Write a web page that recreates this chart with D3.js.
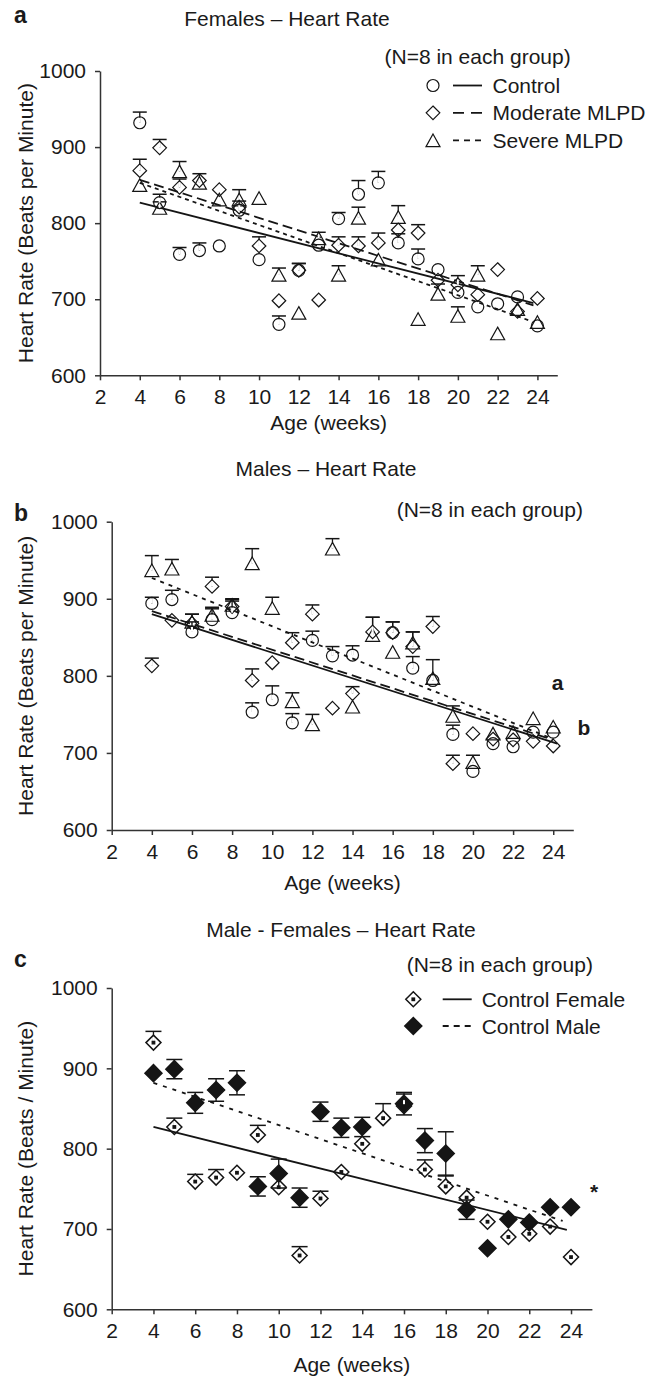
<!DOCTYPE html>
<html>
<head>
<meta charset="utf-8">
<script src="https://cdn.jsdelivr.net/npm/d3@7"></script>
<style>
  body { margin: 0; background: #fff; }
  text { font-family: "Liberation Sans", Arial, Helvetica, sans-serif; fill: #1a1a1a; }
</style>
</head>
<body>
<div id="visContainer"></div>
<script>

// ---- data ----
var weeks  = [4,5,6,7,8,9,10,11,12,13,14,15,16,17,18,19,20,21,22,23,24];
var xTicks = [2,4,6,8,10,12,14,16,18,20,22,24];
var yTicks = [600,700,800,900,1000];

// a: females
var femControl     = [932,827,759,764,770,817,752,667,738,771,806,838,853,774,753,739,709,690,694,703,665];
var femControlSem  = [14,11,9,10,0,12,0,11,9,0,8,18,15,12,13,0,0,0,0,6,0];
var femModerate    = [869,899,847,856,844,821,770,698,738,699,771,770,774,791,787,725,719,706,739,684,701];
var femModerateSem = [15,11,11,0,0,0,12,0,9,0,11,12,13,0,11,0,12,0,0,0,0];
var femSevere      = [850,820,868,853,831,831,833,732,682,780,732,807,752,808,674,707,678,732,655,687,670];
var femSevereSem   = [0,8,13,12,0,13,0,9,0,8,12,14,0,15,0,13,12,12,0,0,0];

// b: males
var maleControl     = [894,899,857,873,882,753,769,739,846,826,827,null,856,810,794,724,676,712,708,727,727];
var maleControlSem  = [8,12,13,14,15,12,18,12,12,12,12,0,14,15,27,12,0,0,0,0,0];
var maleModerate    = [813,872,868,916,890,794,817,843,880,758,777,857,856,838,864,686,725,718,717,715,709];
var maleModerateSem = [10,0,12,12,9,15,0,13,12,0,9,19,14,19,13,11,0,0,0,0,0];
var maleSevere      = [937,939,870,879,892,946,888,767,737,965,760,853,831,843,797,748,688,725,727,745,734];
var maleSevereSem   = [19,12,10,10,8,19,14,11,13,13,0,23,0,14,0,13,9,0,0,0,0];

// regression lines, [week, bpm] at each end
var femTrendControl   = [[4, 827], [23.8, 695]];
var femTrendModerate  = [[4, 857], [23.8, 692]];
var femTrendSevere    = [[4, 853], [23.6, 672]];
var maleTrendControl  = [[4, 880], [24.2, 712]];
var maleTrendModerate = [[4, 884], [24, 717]];
var maleTrendSevere   = [[4, 927], [24, 718]];
var ctrlTrendFemale   = [[4, 827], [23.8, 699]];
var ctrlTrendMale     = [[4, 882], [23.6, 710]];

var legendA = ["Control", "Moderate MLPD", "Severe MLPD"];
var legendC = ["Control Female", "Control Male"];

var svg = d3.select("#visContainer").append("svg")
    .attr("width", 668)
    .attr("height", 1379);

var ink = "#151515";

// half heights used to start the error bars at the marker edge
var markerHalf = { circle: 6, diamond: 6.8, triangle: 6.3, dotDiamond: 7.5, fillDiamond: 8.5 };

function drawMarker(g, sym, cx, cy) {
  if (sym == "circle") {
    g.append("circle").attr("cx", cx).attr("cy", cy).attr("r", 6)
      .attr("fill", "none").attr("stroke", ink).attr("stroke-width", 1.2);
  } else if (sym == "triangle") {
    g.append("path")
      .attr("d", "M" + cx + "," + (cy - 6.3) + "L" + (cx + 7) + "," + (cy + 6.3) + "L" + (cx - 7) + "," + (cy + 6.3) + "Z")
      .attr("fill", "none").attr("stroke", ink).attr("stroke-width", 1.2);
  } else {
    var s = markerHalf[sym];
    g.append("path")
      .attr("d", "M" + cx + "," + (cy - s) + "L" + (cx + s) + "," + cy + "L" + cx + "," + (cy + s) + "L" + (cx - s) + "," + cy + "Z")
      .attr("fill", sym == "fillDiamond" ? ink : "none")
      .attr("stroke", ink)
      .attr("stroke-width", sym == "diamond" ? 1.2 : 1.5);
    if (sym == "dotDiamond") {
      g.append("rect").attr("x", cx - 1.9).attr("y", cy - 1.9)
        .attr("width", 3.8).attr("height", 3.8).attr("fill", ink);
    }
  }
}

function drawPanel(p) {
  var g = svg.append("g");

  var x = d3.scaleLinear().domain([2, 25]).range(p.xRange);
  var y = d3.scaleLinear().domain([600, 1000]).range(p.yRange);

  // axes
  var xa = g.append("g")
      .attr("transform", "translate(0," + p.yRange[0] + ")")
      .call(d3.axisBottom(x).tickValues(xTicks).tickFormat(d3.format("d"))
        .tickSize(5).tickPadding(9).tickSizeOuter(0));
  var ya = g.append("g")
      .attr("transform", "translate(" + p.xRange[0] + ",0)")
      .call(d3.axisLeft(y).tickValues(yTicks).tickFormat(d3.format("d"))
        .tickSize(5).tickPadding(9).tickSizeOuter(0));
  [xa, ya].forEach(function(a) {
    a.attr("font-family", null).attr("font-size", null);
    a.selectAll("path, line").attr("stroke", "#333").attr("stroke-width", 1.5);
    a.selectAll("text").style("font-size", "21px").attr("fill", "#222");
  });

  // regression lines
  p.trends.forEach(function(t) {
    g.append("line")
      .attr("x1", x(t.pts[0][0])).attr("y1", y(t.pts[0][1]))
      .attr("x2", x(t.pts[1][0])).attr("y2", y(t.pts[1][1]))
      .attr("stroke", ink).attr("stroke-width", 1.8)
      .attr("stroke-dasharray", t.dash);
  });

  // points with error bars
  p.series.forEach(function(s) {
    var h = markerHalf[s.sym];
    var cw = s.sym == "fillDiamond" || s.sym == "dotDiamond" ? 8 : 7;
    s.values.forEach(function(v, i) {
      if (v == null) return;
      var cx = x(weeks[i]), cy = y(v), e = s.sem[i];
      if (e > 0) {
        var dirs = s.both ? [1, -1] : [1];
        dirs.forEach(function(d) {
          var end = y(v + d * e);
          if (Math.abs(end - cy) < h - 1) return;
          g.append("line").attr("x1", cx).attr("x2", cx)
            .attr("y1", cy).attr("y2", end)
            .attr("stroke", ink).attr("stroke-width", 1.3);
          g.append("line").attr("x1", cx - cw).attr("x2", cx + cw)
            .attr("y1", end).attr("y2", end)
            .attr("stroke", ink).attr("stroke-width", 1.5);
        });
      }
    });
    // markers after bars; open markers cut the bar inside with a white-free outline
    s.values.forEach(function(v, i) {
      if (v == null) return;
      var cx = x(weeks[i]), cy = y(v);
      if (s.sym != "fillDiamond" && s.sem[i] > 0) {
        // hide the bar stub inside the open marker
        g.append("line").attr("x1", cx).attr("x2", cx)
          .attr("y1", cy - h + 1).attr("y2", cy + (s.both ? h - 1 : 0))
          .attr("stroke", "#fff").attr("stroke-width", 2);
      }
      drawMarker(g, s.sym, cx, cy);
    });
  });

  // texts
  g.append("text").attr("x", 14).attr("y", p.labelY)
    .style("font-size", "23px").style("font-weight", "bold").text(p.label);
  g.append("text").attr("x", p.titlePos[0]).attr("y", p.titlePos[1])
    .style("font-size", "21px").style("text-anchor", "middle").text(p.title);
  g.append("text").attr("x", p.nPos[0]).attr("y", p.nPos[1])
    .style("font-size", "21px").text("(N=8 in each group)");
  g.append("text")
    .attr("transform", "translate(33," + (p.yRange[0] + p.yRange[1]) / 2 + ") rotate(-90)")
    .style("font-size", "21px").style("text-anchor", "middle").text(p.yTitle);
  g.append("text").attr("x", (p.xRange[0] + p.xRange[1]) / 2).attr("y", p.xTitleY)
    .style("font-size", "21px").style("text-anchor", "middle").text("Age (weeks)");

  // legend
  if (p.legend) {
    p.legend.labels.forEach(function(lab, i) {
      var ly = p.legend.rows[i];
      drawMarker(g, p.legend.syms[i], p.legend.mx, ly);
      g.append("line").attr("x1", p.legend.lx[0]).attr("x2", p.legend.lx[1])
        .attr("y1", ly).attr("y2", ly)
        .attr("stroke", ink).attr("stroke-width", 1.8)
        .attr("stroke-dasharray", p.legend.dash[i]);
      g.append("text").attr("x", p.legend.tx).attr("y", ly + 7.5)
        .style("font-size", "21px").text(lab);
    });
  }

  (p.notes || []).forEach(function(n) {
    g.append("text").attr("x", n.x).attr("y", n.y)
      .style("font-size", "21px").style("font-weight", "bold")
      .style("text-anchor", "middle").text(n.t);
  });
}

drawPanel({
  xRange: [100, 557.3], yRange: [375.3, 71],
  label: "a", labelY: 23,
  title: "Females \u2013 Heart Rate", titlePos: [287, 26],
  nPos: [384.5, 64],
  yTitle: "Heart Rate (Beats per Minute)", xTitleY: 430,
  series: [
    { values: femSevere, sem: femSevereSem, sym: "triangle" },
    { values: femModerate, sem: femModerateSem, sym: "diamond" },
    { values: femControl, sem: femControlSem, sym: "circle" }
  ],
  trends: [
    { pts: femTrendControl, dash: null },
    { pts: femTrendModerate, dash: "10,5" },
    { pts: femTrendSevere, dash: "4,4" }
  ],
  legend: {
    labels: legendA, syms: ["circle", "diamond", "triangle"],
    rows: [85.5, 112.8, 140.3], mx: 433, lx: [453, 482], tx: 492.5,
    dash: [null, "11,7", "6,5"]
  }
});

drawPanel({
  xRange: [111.7, 573.3], yRange: [830, 521.7],
  label: "b", labelY: 521,
  title: "Males \u2013 Heart Rate", titlePos: [326, 476],
  nPos: [396.7, 517],
  yTitle: "Heart Rate (Beats per Minute)", xTitleY: 890,
  series: [
    { values: maleSevere, sem: maleSevereSem, sym: "triangle" },
    { values: maleModerate, sem: maleModerateSem, sym: "diamond" },
    { values: maleControl, sem: maleControlSem, sym: "circle" }
  ],
  trends: [
    { pts: maleTrendControl, dash: null },
    { pts: maleTrendModerate, dash: "10,5" },
    { pts: maleTrendSevere, dash: "4,5" }
  ],
  notes: [{ t: "a", x: 557.5, y: 690 }, { t: "b", x: 584, y: 735 }]
});

drawPanel({
  xRange: [111.7, 591.9], yRange: [1309.3, 988],
  label: "c", labelY: 966.7,
  title: "Male - Females \u2013 Heart Rate", titlePos: [341, 936.7],
  nPos: [406.7, 971.5],
  yTitle: "Heart Rate (Beats / Minute)", xTitleY: 1372,
  series: [
    { values: maleControl, sem: maleControlSem, sym: "fillDiamond", both: true },
    { values: femControl, sem: femControlSem, sym: "dotDiamond" }
  ],
  trends: [
    { pts: ctrlTrendFemale, dash: null },
    { pts: ctrlTrendMale, dash: "4,6" }
  ],
  legend: {
    labels: legendC, syms: ["dotDiamond", "fillDiamond"],
    rows: [999.3, 1026], mx: 413.3, lx: [442.7, 471.7], tx: 481.7,
    dash: [null, "6,5"]
  },
  notes: [{ t: "*", x: 594, y: 1199 }]
});

</script>
</body>
</html>
